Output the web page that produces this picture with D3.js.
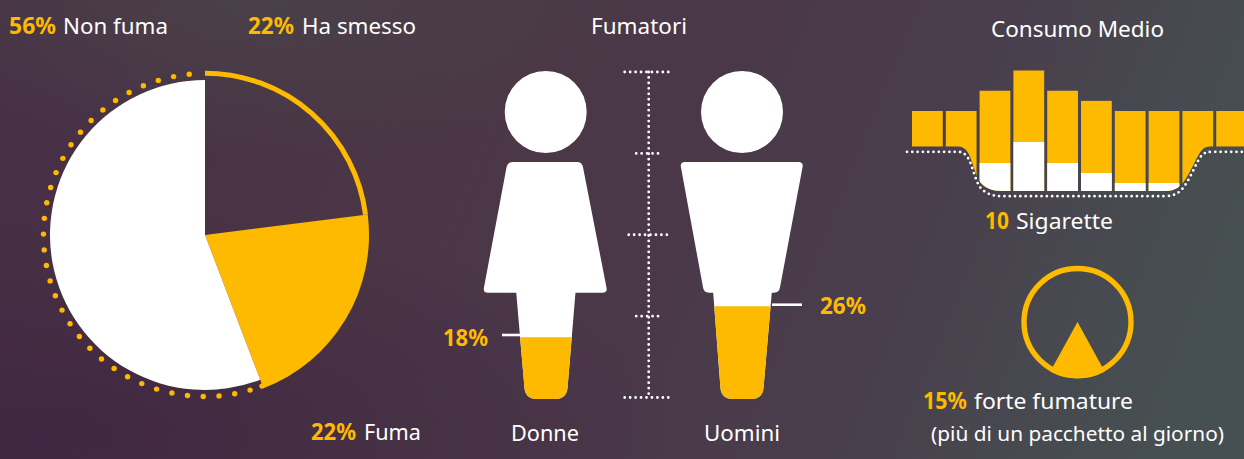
<!DOCTYPE html>
<html><head><meta charset="utf-8">
<script src="https://cdn.jsdelivr.net/npm/d3@7"></script>
<style>html,body{margin:0;padding:0;background:#4a3846;overflow:hidden}svg{display:block}
text{font-family:"Noto Sans","Open Sans",sans-serif;fill:#fff}</style></head><body>
<script>
// Data
const pieCategories = ["Ha smesso", "Fuma", "Non fuma"];
const pieValues = [23, 21.2, 55.8];        // drawn shares as measured
const pieLabels = ["22%", "22%", "56%"];
const genderCategories = ["Donne", "Uomini"];
const genderDrawn = [18.5, 28];            // fill level against the 0-100 ruler
const genderLabels = ["18%", "26%"];
const rulerTicks = [0, 25, 50, 75, 100];
const barTotals = [8, 8, 10, 12, 10, 9, 8, 8, 8, 8];
const barWhite = [0, 0, 2.86, 4.94, 2.86, 1.88, 0.89, 0.89, 0, 0];
const heavyShare = 16;
const heavyLabel = "15%";

const W = 1244, H = 459, AMBER = "#fdba00";
const svg = d3.select("body").append("svg").attr("width", W).attr("height", H);
const defs = svg.append("defs");
const bg = defs.append("linearGradient").attr("id", "bg").attr("x1", 0).attr("y1", 0.35).attr("x2", 1).attr("y2", 0.5);
[[0, "#472f45"], [0.3, "#4a3646"], [0.55, "#4a3849"], [0.75, "#493e4c"], [0.9, "#474a50"], [1, "#464f51"]]
  .forEach(d => bg.append("stop").attr("offset", d[0]).attr("stop-color", d[1]));
const dark = defs.append("radialGradient").attr("id", "dark").attr("cx", 0.05).attr("cy", 0.95).attr("r", 0.5);
dark.append("stop").attr("offset", 0).attr("stop-color", "#3e2440").attr("stop-opacity", 0.75);
dark.append("stop").attr("offset", 1).attr("stop-color", "#3e2440").attr("stop-opacity", 0);
const grey = defs.append("radialGradient").attr("id", "grey").attr("cx", 0.2).attr("cy", 0).attr("r", 0.35);
grey.append("stop").attr("offset", 0).attr("stop-color", "#4a4249").attr("stop-opacity", 0.9);
grey.append("stop").attr("offset", 1).attr("stop-color", "#4a4249").attr("stop-opacity", 0);
svg.append("rect").attr("width", W).attr("height", H).attr("fill", "url(#bg)");
svg.append("rect").attr("width", W).attr("height", H).attr("fill", "url(#dark)");
svg.append("rect").attr("width", W).attr("height", H).attr("fill", "url(#grey)");

function label(x, y, size, parts) {
  parts.forEach(p => {
    svg.append("text").attr("x", p.x).attr("y", y)
      .attr("font-size", p.bold ? size + 0.5 : size).attr("font-weight", p.bold ? 700 : 400)
      .attr("textLength", p.w).attr("lengthAdjust", "spacingAndGlyphs")
      .style("fill", p.bold ? AMBER : "#fff").text(p.t);
  });
}

// ---------- Pie ----------
const pie = d3.pie().sort(null).value(d => d)(pieValues);
const pg = svg.append("g").attr("transform", "translate(205,235)");
const arcWhite = d3.arc().innerRadius(0).outerRadius(155);
const arcAmber = d3.arc().innerRadius(0).outerRadius(164);
pg.append("path").attr("d", arcAmber(pie[1])).attr("fill", AMBER);
pg.append("path").attr("d", arcWhite(pie[2])).attr("fill", "#fff");
pg.append("path").attr("d", d3.arc().innerRadius(161.8).outerRadius(161.8)(pie[0]))
  .attr("fill", "none").attr("stroke", AMBER).attr("stroke-width", 5).attr("stroke-linecap", "round");
// dotted ring over the "Non fuma" slice
const toRad = Math.PI / 180;
const dots = [pie[2].startAngle + 0.004].concat(d3.range(0, 35).map(k => (163.8 + k * 5.606) * toRad));
pg.selectAll("circle.dot").data(dots).join("circle").attr("class", "dot")
  .attr("cx", a => 161.5 * Math.sin(a)).attr("cy", a => -161.5 * Math.cos(a))
  .attr("r", 2.7).attr("fill", AMBER);

label(0, 34, 22, [{x: 9, w: 47, t: pieLabels[2], bold: 1}, {x: 63, w: 105, t: pieCategories[2]}]);
label(0, 34, 22, [{x: 248, w: 46, t: pieLabels[0], bold: 1}, {x: 302, w: 114, t: pieCategories[0]}]);
label(0, 440, 22, [{x: 311, w: 45, t: pieLabels[1], bold: 1}, {x: 364, w: 57, t: pieCategories[1]}]);

// ---------- People ----------
const ruler = d3.scaleLinear().domain([0, 100]).range([397.5, 72]);
const rp = svg.append("g");
const TL = [24, 12.5, 20, 12.5, 24];
const dotted = sel => sel.attr("stroke", "#fff").attr("stroke-width", 2.8).attr("stroke-linecap", "round").attr("fill", "none");
dotted(rp.append("line").attr("x1", 648.7).attr("x2", 648.7).attr("y1", ruler(100)).attr("y2", ruler(0))).attr("stroke-dasharray", "0 5.45");
rulerTicks.forEach((t, i) => {
  dotted(rp.append("line").attr("x1", 648.7 - TL[i]).attr("x2", 648.7 + TL[i]).attr("y1", ruler(t)).attr("y2", ruler(t))).attr("stroke-dasharray", "0 5.45");
});

const people = [
  {head: 545.7, torso: [[507.5, 162], [582, 162], [607.5, 292.7], [483, 292.7]], legTop: [516, 575.7], legBot: [525, 567], tick: [502, 520, 335]},
  {head: 742, torso: [[680, 162], [803.5, 162], [779, 292.7], [704, 292.7]], legTop: [713, 772], legBot: [721, 763], tick: [772, 802, 304.7]}
];
function roundedPoly(pts, r) {
  const n = pts.length; let d = "";
  pts.forEach((p, i) => {
    const a = pts[(i + n - 1) % n], b = pts[(i + 1) % n];
    const ua = Math.hypot(a[0]-p[0], a[1]-p[1]), ub = Math.hypot(b[0]-p[0], b[1]-p[1]);
    const s = [p[0] + (a[0]-p[0]) * r / ua, p[1] + (a[1]-p[1]) * r / ua];
    const e = [p[0] + (b[0]-p[0]) * r / ub, p[1] + (b[1]-p[1]) * r / ub];
    d += (i ? "L" : "M") + s[0] + "," + s[1] + "Q" + p[0] + "," + p[1] + " " + e[0] + "," + e[1];
  });
  return d + "Z";
}
people.forEach((p, i) => {
  const g = svg.append("g");
  g.append("circle").attr("cx", p.head).attr("cy", 112).attr("r", 41).attr("fill", "#fff");
  g.append("path").attr("d", roundedPoly(p.torso, 5)).attr("fill", "#fff");
  const bot = 399, legY = 290;
  const legPath = `M${p.legTop[0]},${legY}L${p.legTop[1]},${legY}L${p.legBot[1]+0.6},${bot-12}Q${p.legBot[1]},${bot} ${p.legBot[1]-12},${bot}L${p.legBot[0]+12},${bot}Q${p.legBot[0]},${bot} ${p.legBot[0]-0.6},${bot-12}Z`;
  g.append("path").attr("d", legPath).attr("fill", "#fff");
  const id = "leg" + i;
  const level = ruler(genderDrawn[i]);
  defs.append("clipPath").attr("id", id).append("rect").attr("x", p.legTop[0] - 5).attr("width", 80).attr("y", level).attr("height", bot - level + 2);
  g.append("path").attr("d", legPath).attr("fill", AMBER).attr("clip-path", `url(#${id})`);
  g.append("line").attr("x1", p.tick[0]).attr("x2", p.tick[1]).attr("y1", p.tick[2]).attr("y2", p.tick[2]).attr("stroke", "#fff").attr("stroke-width", 2.6);
});
label(0, 34, 22, [{x: 591, w: 96, t: "Fumatori"}]);
label(0, 346, 22, [{x: 443, w: 45, t: genderLabels[0], bold: 1}]);
label(0, 314, 22, [{x: 820, w: 46, t: genderLabels[1], bold: 1}]);
label(0, 441, 22, [{x: 511, w: 68, t: genderCategories[0]}]);
label(0, 441, 22, [{x: 704, w: 76, t: genderCategories[1]}]);

// ---------- Bars ----------
const xBar = d3.scaleBand().domain(d3.range(barTotals.length)).range([912, 1247]).paddingInner(0.09).paddingOuter(0);
const yBar = d3.scaleLinear().domain([0, 12]).range([192, 70.5]);
const curve = "958,146.6C972,146.6 972,170 980,182C985,188 992,191 1002,191L1165,191C1176,191 1181,186 1185,180C1192,170 1197,155 1202,150C1205,147 1208,146.6 1213,146.6L1244,146.6";
defs.append("clipPath").attr("id", "trough").append("path").attr("d", "M900,146.6L" + curve + "L1250,146.6L1250,40L900,40Z");
const bars = svg.append("g").attr("clip-path", "url(#trough)");
bars.selectAll("rect.total").data(barTotals).join("rect").attr("class", "total")
  .attr("x", (d, i) => xBar(i)).attr("width", xBar.bandwidth())
  .attr("y", d => yBar(d)).attr("height", d => yBar(0) - yBar(d)).attr("fill", AMBER);
bars.selectAll("rect.white").data(barWhite).join("rect").attr("class", "white")
  .attr("x", (d, i) => xBar(i)).attr("width", xBar.bandwidth())
  .attr("y", d => yBar(d)).attr("height", d => yBar(0) - yBar(d)).attr("fill", "#fff");
dotted(svg.append("path").attr("d", "M907,146.6L" + curve).attr("transform", "translate(0,5.2)").attr("stroke-dasharray", "0 5.3"));
label(0, 37, 22, [{x: 991, w: 173, t: "Consumo Medio"}]);
label(0, 229, 22, [{x: 985, w: 24, t: "10", bold: 1}, {x: 1016, w: 97, t: "Sigarette"}]);

// ---------- Gauge ----------
const gauge = svg.append("g").attr("transform", "translate(1077.5,322)");
gauge.append("circle").attr("r", 53.5).attr("fill", "none").attr("stroke", AMBER).attr("stroke-width", 5.4);
const half = heavyShare / 100 * Math.PI;
gauge.append("path").attr("d", d3.arc().innerRadius(0).outerRadius(56.5)({startAngle: Math.PI - half, endAngle: Math.PI + half})).attr("fill", AMBER);
label(0, 409, 22, [{x: 923, w: 44, t: heavyLabel, bold: 1}, {x: 974, w: 159, t: "forte fumature"}]);
label(0, 441, 19, [{x: 931, w: 293, t: "(più di un pacchetto al giorno)"}]);
</script></body></html>
